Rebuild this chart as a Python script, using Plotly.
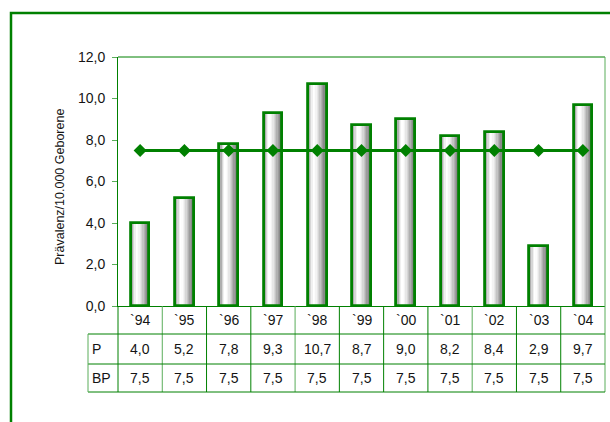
import plotly.graph_objects as go

# Data
YEARS = ["`94", "`95", "`96", "`97", "`98", "`99", "`00", "`01", "`02", "`03", "`04"]
P = [4.0, 5.2, 7.8, 9.3, 10.7, 8.7, 9.0, 8.2, 8.4, 2.9, 9.7]
BP = [7.5] * 11
ROW_LABELS = ["P", "BP"]
Y_TITLE = "Prävalenz/10.000 Geborene"

# Geometry (pixels)
W, H = 610, 422
PL, PR, PT, PB = 118, 605, 57, 306          # plot area
PW, PH = PR - PL, PB - PT
ROWS = [306, 334, 364, 392]                  # table row boundaries
LABEL_LEFT = 88

GREEN = "#008000"
LIGHT_GREEN = "#5aad5a"
TXT = "#141414"
FONT = "Liberation Sans, Arial, sans-serif"


def px_x(px):
    return (px - PL) / PW


def px_y(py):
    return (PB - py) / PH


def fmt(v):
    return f"{v:.1f}".replace(".", ",")


fig = go.Figure()

# Cylinder-shaded bars: vertical slices of grey, then a green outline on top
BAR_W = 0.42
SHADES = [0x84, 0xae, 0xd6, 0xf0, 0xff, 0xfc, 0xf3, 0xe6, 0xd6, 0xc4, 0xb0, 0x9c, 0x8a, 0x7a]
n = len(SHADES)
for i, s in enumerate(SHADES):
    fig.add_trace(go.Bar(
        x=YEARS, y=P,
        width=BAR_W / n, offset=-BAR_W / 2 + i * BAR_W / n,
        marker=dict(color=f"rgb({s},{s},{s})", line=dict(width=0)),
        hoverinfo="skip", showlegend=False,
    ))
fig.add_trace(go.Bar(
    x=YEARS, y=P, width=BAR_W, offset=-BAR_W / 2,
    marker=dict(color="rgba(0,0,0,0)", line=dict(color=GREEN, width=2.8)),
    name="P", showlegend=False,
))

# Reference line
fig.add_trace(go.Scatter(
    x=YEARS, y=BP, mode="lines+markers", name="BP",
    line=dict(color=GREEN, width=3),
    marker=dict(symbol="diamond", size=10, color=GREEN),
    showlegend=False,
))

shapes = []
# outer frame
shapes.append(dict(type="rect", xref="paper", yref="paper",
                   x0=px_x(11), x1=px_x(614), y0=px_y(432), y1=px_y(13),
                   line=dict(color=GREEN, width=2.5), layer="below"))
# plot frame top / right
shapes.append(dict(type="line", xref="paper", yref="paper", x0=0, x1=1, y0=1, y1=1,
                   line=dict(color=GREEN, width=1)))
shapes.append(dict(type="line", xref="paper", yref="paper", x0=1, x1=1, y0=0, y1=1,
                   line=dict(color=LIGHT_GREEN, width=1)))

# data table grid
light_cols = {1, 4, 8, 11}
for k in range(len(YEARS) + 1):
    xk = px_x(PL + k * PW / len(YEARS))
    shapes.append(dict(type="line", xref="paper", yref="paper",
                       x0=xk, x1=xk, y0=px_y(ROWS[0]), y1=px_y(ROWS[-1]),
                       line=dict(color=LIGHT_GREEN if k in light_cols else GREEN, width=1)))
for r in ROWS[1:]:
    shapes.append(dict(type="line", xref="paper", yref="paper",
                       x0=px_x(LABEL_LEFT), x1=1, y0=px_y(r), y1=px_y(r),
                       line=dict(color=GREEN, width=1)))
shapes.append(dict(type="line", xref="paper", yref="paper",
                   x0=px_x(LABEL_LEFT), x1=px_x(LABEL_LEFT), y0=px_y(ROWS[1]), y1=px_y(ROWS[-1]),
                   line=dict(color=LIGHT_GREEN, width=1)))

annotations = []
centers = [(ROWS[i] + ROWS[i + 1]) / 2 for i in range(3)]
cell_font = dict(size=14, color=TXT, family=FONT)
for i, yr in enumerate(YEARS):
    for row_text, cy in ((yr, centers[0]), (fmt(P[i]), centers[1]), (fmt(BP[i]), centers[2])):
        annotations.append(dict(x=i, y=px_y(cy), xref="x", yref="paper",
                                xanchor="center", yanchor="middle",
                                text=row_text, showarrow=False, font=cell_font))
for lbl, cy in zip(ROW_LABELS, centers[1:]):
    annotations.append(dict(x=px_x(LABEL_LEFT + 2), y=px_y(cy), xref="paper", yref="paper",
                            xanchor="left", yanchor="middle",
                            text=lbl, showarrow=False, font=cell_font))
annotations.append(dict(x=px_x(60), y=px_y(187), xref="paper", yref="paper",
                        xanchor="center", yanchor="middle",
                        text=Y_TITLE, textangle=-90, showarrow=False,
                        font=dict(size=12.5, color=TXT, family=FONT)))

fig.update_layout(
    width=W, height=H,
    margin=dict(l=PL, r=W - PR, t=PT, b=H - PB),
    paper_bgcolor="white", plot_bgcolor="white",
    barmode="overlay", bargap=0,
    separators=",.",
    font=dict(family=FONT, size=14, color=TXT),
    shapes=shapes, annotations=annotations,
    xaxis=dict(type="category", range=[-0.5, len(YEARS) - 0.5],
               showticklabels=False, ticks="", showgrid=False, zeroline=False,
               showline=True, linecolor=GREEN, linewidth=1),
    yaxis=dict(range=[0, 12], dtick=2, tickformat=".1f", showgrid=False, zeroline=False,
               showline=True, linecolor=GREEN, linewidth=1,
               ticks="outside", ticklen=5, tickcolor=LIGHT_GREEN, tickwidth=1,
               ticklabelstandoff=4,
               tickfont=dict(size=14, color=TXT, family=FONT)),
)

fig.write_html("out.html")
